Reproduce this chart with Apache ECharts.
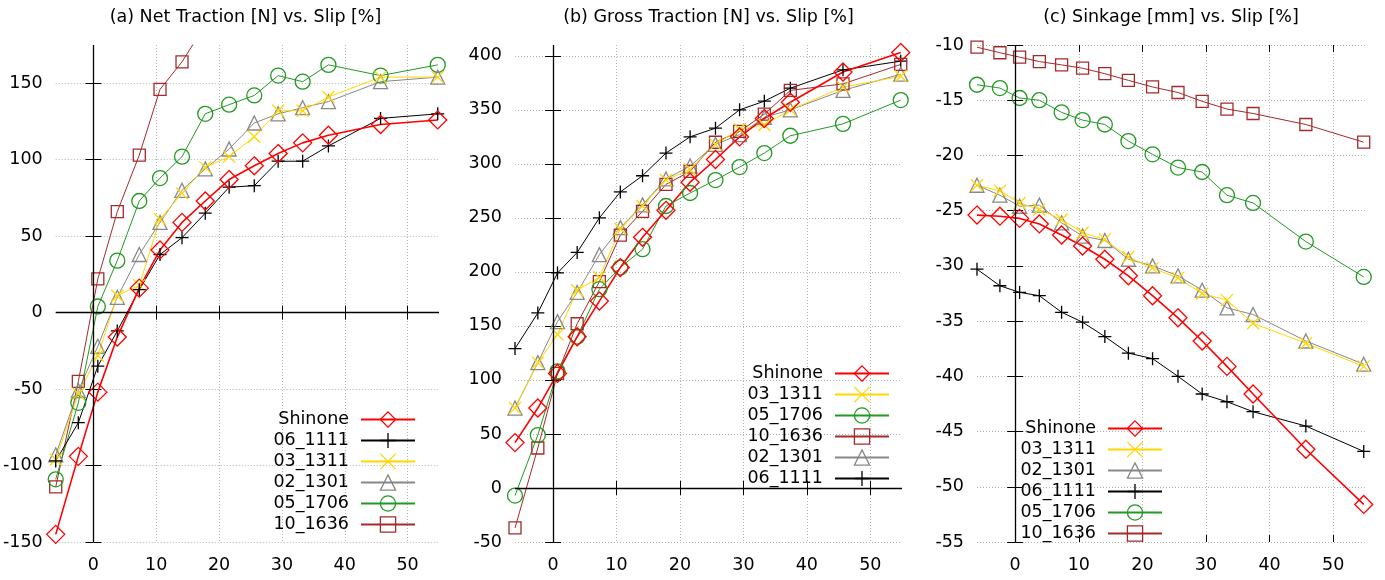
<!DOCTYPE html>
<html><head><meta charset="utf-8">
<script src="https://cdn.jsdelivr.net/npm/echarts@6/dist/echarts.min.js"></script>
<style>html,body{margin:0;padding:0;background:#fff}#c{width:1385px;height:580px}</style>
</head><body><div id="c"></div><script>
// ---- data ----
const slip = [-6, -2.4, 0.7, 3.8, 7.3, 10.6, 14.1, 17.8, 21.6, 25.6, 29.4, 33.3, 37.4, 45.7, 54.8];

const netShinone = [-145, -94, -52, -16, 16, 41, 59, 73, 87, 96, 104, 111, 116, 123, 126];
const net06_1111 = [-97, -72, -35, -12, 15, 38, 49, 65, 82, 83, 99, 99, 109, 127, 130];
const net03_1311 = [-96, -53, -28, 11, 18, 61, 78, 95, 102, 115, 132, 132, 141, 154, 154];
const net02_1301 = [-93, -51, -22, 10, 38, 59, 80, 94, 107, 124, 130, 134, 138, 151, 154];
const net05_1706 = [-109, -59, 4, 34, 73, 88, 102, 130, 136, 142, 155, 151, 162, 155, 162];
const net10_1636 = [-114, -45, 22, 66, 103, 146, 164, 188];

const grossShinone = [42, 74, 106, 140, 173, 204, 232, 257, 283, 304, 325, 342, 357, 385, 403];
const gross03_1311 = [74, 116, 142, 183, 195, 240, 261, 285, 295, 318, 332, 336, 350, 371, 381];
const gross05_1706 = [-7, 49, 108, 140, 184, 204, 221, 261, 273, 285, 297, 310, 326, 337, 359];
const gross10_1636 = [-37, 37, 106, 152, 191, 234, 256, 281, 293, 320, 330, 346, 368, 374, 392];
const gross02_1301 = [74, 116, 154, 181, 216, 241, 262, 286, 298, 318, 327, 343, 350, 368, 383];
const gross06_1111 = [129, 162, 199, 218, 250, 274, 289, 310, 325, 333, 350, 358, 370, 387, 395];

const sinkShinone = [-25.4, -25.5, -25.7, -26.2, -27.2, -28.2, -29.4, -30.9, -32.7, -34.7, -36.8, -39.1, -41.6, -46.6, -51.6];
const sink03_1311 = [-22.7, -23.2, -24.3, -24.9, -25.8, -27.0, -27.6, -29.2, -30.2, -31.1, -32.5, -33.1, -35.2, -37.0, -39.1];
const sink02_1301 = [-22.7, -23.6, -24.6, -24.5, -26.1, -27.3, -27.7, -29.4, -30.0, -30.9, -32.2, -33.8, -34.4, -36.8, -38.9];
const sink06_1111 = [-30.3, -31.8, -32.4, -32.7, -34.2, -35.1, -36.4, -37.9, -38.4, -40.0, -41.6, -42.3, -43.2, -44.5, -46.8];
const sink05_1706 = [-13.6, -13.9, -14.8, -15.0, -16.1, -16.8, -17.2, -18.7, -19.9, -21.1, -21.5, -23.6, -24.3, -27.8, -31.0];
const sink10_1636 = [-10.2, -10.7, -11.1, -11.5, -11.8, -12.1, -12.6, -13.2, -13.8, -14.3, -15.1, -15.8, -16.2, -17.2, -18.8];

const xTicks = [0, 10, 20, 30, 40, 50];
const netTicks = [-150, -100, -50, 0, 50, 100, 150];
const grossTicks = [-50, 0, 50, 100, 150, 200, 250, 300, 350, 400];
const sinkTicks = [-55, -50, -45, -40, -35, -30, -25, -20, -15, -10];

const titles = ['(a) Net Traction [N] vs. Slip [%]', '(b) Gross Traction [N] vs. Slip [%]', '(c) Sinkage [mm] vs. Slip [%]'];
const legendA = ['Shinone', '06_1111', '03_1311', '02_1301', '05_1706', '10_1636'];
const legendB = ['Shinone', '03_1311', '05_1706', '10_1636', '02_1301', '06_1111'];
const legendC = ['Shinone', '03_1311', '02_1301', '06_1111', '05_1706', '10_1636'];

// ---- styles ----
const FONT = 'DejaVu Sans';
const FS = 17.5;
const STY = {
  'Shinone': {color: '#ff0000', symbol: 'diamond', size: 18, lw: 1.6},
  '06_1111': {color: '#000000', symbol: 'path://M0,6L12,6M6,0L6,12', size: 13, lw: 1},
  '03_1311': {color: '#ffd700', symbol: 'path://M0,0L12,12M0,12L12,0', size: 12, lw: 1},
  '02_1301': {color: '#888888', symbol: 'triangle', size: 14, lw: 1},
  '05_1706': {color: '#229922', symbol: 'circle', size: 15, lw: 1},
  '10_1636': {color: '#a52a2a', symbol: 'rect', size: 12, lw: 1}
};

const GRIDS = [
  {left: 52, top: 45, width: 387, height: 497},
  {left: 515, top: 45, width: 387, height: 497},
  {left: 977, top: 45, width: 388, height: 497}
];
const YR = [[-150, 175, netTicks], [-50, 410, grossTicks], [-55, -10, sinkTicks]];

const tickStyle = {color: '#000', width: 1};
const labelStyle = {color: '#000', fontFamily: FONT, fontSize: FS};
const splitStyle = {color: '#b4b4b4', type: [1, 2], width: 1};

const xAxis = [], yAxis = [];
GRIDS.forEach((g, gi) => {
  xAxis.push({type: 'value', gridIndex: gi, min: -6, max: 55, position: 'bottom',
    axisLine: {show: false},
    axisTick: {show: true, inside: true, length: 7, customValues: xTicks, lineStyle: tickStyle},
    axisLabel: Object.assign({show: true, margin: 14, customValues: xTicks}, labelStyle),
    splitLine: {show: true, lineStyle: splitStyle}});
  xAxis.push({type: 'value', gridIndex: gi, min: -6, max: 55, position: 'top',
    axisLine: {show: false},
    axisTick: {show: true, inside: true, length: 7, customValues: xTicks, lineStyle: tickStyle},
    axisLabel: {show: false}, splitLine: {show: false}});
  const [mn, mx, tk] = YR[gi];
  yAxis.push({type: 'value', gridIndex: gi, min: mn, max: mx, position: 'left',
    axisLine: {show: false},
    axisTick: {show: true, inside: true, length: 8, customValues: tk, lineStyle: tickStyle},
    axisLabel: Object.assign({show: true, margin: 13, customValues: tk}, labelStyle),
    splitLine: {show: true, showMaxLine: true, showMinLine: true, lineStyle: splitStyle}});
  yAxis.push({type: 'value', gridIndex: gi, min: mn, max: mx, position: 'right',
    axisLine: {show: false},
    axisTick: {show: true, inside: true, length: 8, customValues: tk, lineStyle: tickStyle},
    axisLabel: {show: false}, splitLine: {show: false}});
});

function mk(name, values, gi) {
  const s = STY[name];
  return {
    type: 'line', name: name, xAxisIndex: gi * 2, yAxisIndex: gi * 2, z: 3,
    data: values.map((v, i) => [slip[i], v]),
    symbol: s.symbol, symbolSize: s.size, showSymbol: true, clip: true,
    lineStyle: {color: s.color, width: s.lw},
    itemStyle: {color: 'transparent', borderColor: s.color, borderWidth: 1.3},
    emphasis: {disabled: true}, silent: true
  };
}
function zeroLines(gi, withY) {
  const d = [{xAxis: 0}];
  if (withY) d.push({yAxis: 0});
  return {type: 'line', name: 'zero' + gi, xAxisIndex: gi * 2, yAxisIndex: gi * 2, z: 1, data: [],
    markLine: {silent: true, symbol: 'none', label: {show: false},
      lineStyle: {color: '#000', type: 'solid', width: 1.3}, emphasis: {disabled: true}, data: d}};
}

const series = [
  zeroLines(0, true), zeroLines(1, true), zeroLines(2, false),
  mk('10_1636', net10_1636, 0), mk('05_1706', net05_1706, 0), mk('02_1301', net02_1301, 0),
  mk('03_1311', net03_1311, 0), mk('06_1111', net06_1111, 0), mk('Shinone', netShinone, 0),
  mk('06_1111', gross06_1111, 1), mk('02_1301', gross02_1301, 1), mk('10_1636', gross10_1636, 1),
  mk('05_1706', gross05_1706, 1), mk('03_1311', gross03_1311, 1), mk('Shinone', grossShinone, 1),
  mk('10_1636', sink10_1636, 2), mk('05_1706', sink05_1706, 2), mk('06_1111', sink06_1111, 2),
  mk('02_1301', sink02_1301, 2), mk('03_1311', sink03_1311, 2), mk('Shinone', sinkShinone, 2)
];

function legend(data, right, top) {
  return {data: data, orient: 'vertical', align: 'right', right: right, top: top,
    itemWidth: 54, itemHeight: 19, itemGap: 0, padding: 0, selectedMode: false,
    textStyle: {fontFamily: FONT, fontSize: FS, color: '#000', lineHeight: 21, padding: [0, 7, 0, 0]},
    itemStyle: {borderWidth: 1.3}};
}

const option = {
  animation: false,
  backgroundColor: '#fff',
  title: titles.map((t, i) => ({text: t, left: GRIDS[i].left + GRIDS[i].width / 2, top: 8, textAlign: 'center', padding: 0,
    textStyle: {fontFamily: FONT, fontSize: FS, fontWeight: 'normal', color: '#000'}})),
  grid: GRIDS.map(g => Object.assign({containLabel: false}, g)),
  xAxis: xAxis, yAxis: yAxis,
  legend: [legend(legendA, 1385 - 416, 409), legend(legendB, 1385 - 890, 363), legend(legendC, 1385 - 1163, 418)],
  series: series
};
const chart = echarts.init(document.getElementById('c'), null, {renderer: 'canvas'});
chart.setOption(option);
</script></body></html>
